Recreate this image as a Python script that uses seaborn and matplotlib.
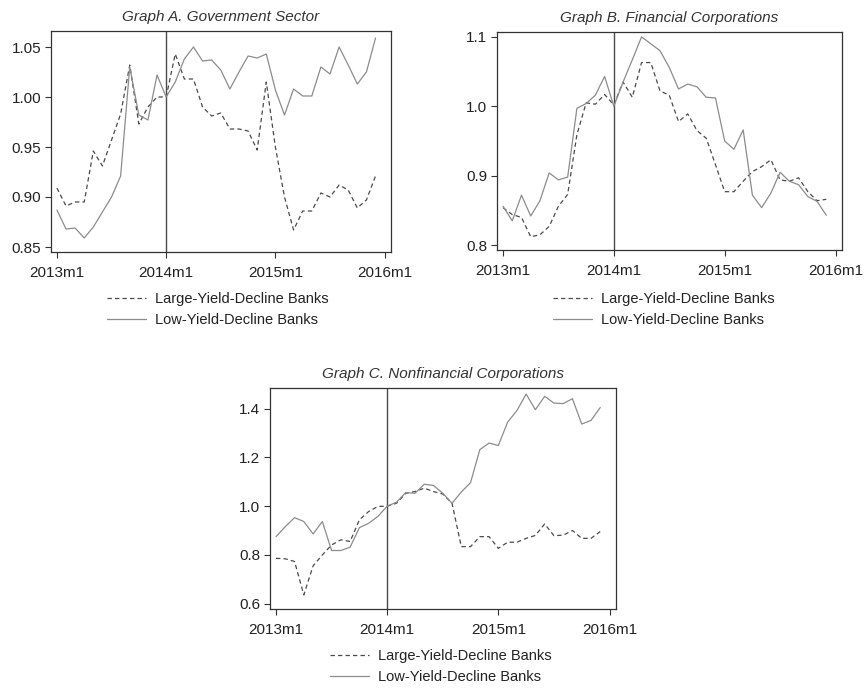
import numpy as np
import pandas as pd
import matplotlib
matplotlib.use("Agg")
import matplotlib.pyplot as plt
import seaborn as sns

# Monthly periods, 2013m1 .. 2015m12
months = [f"{y}m{m}" for y in (2013, 2014, 2015) for m in range(1, 13)]
tick_labels = ["2013m1", "2014m1", "2015m1", "2016m1"]
event_month = "2014m1"

series_names = ["Large-Yield-Decline Banks", "Low-Yield-Decline Banks"]

# Graph A. Government Sector (index, 2014m1 = 1)
gov_large = [0.909, 0.891, 0.895, 0.895, 0.946, 0.931, 0.957, 0.983, 1.032, 0.973,
             0.990, 1.000, 1.000, 1.043, 1.018, 1.018, 0.990, 0.981, 0.984, 0.968,
             0.968, 0.966, 0.947, 1.015, 0.950, 0.900, 0.867, 0.886, 0.886, 0.904,
             0.900, 0.912, 0.907, 0.889, 0.897, 0.921]
gov_low = [0.887, 0.868, 0.869, 0.859, 0.870, 0.885, 0.900, 0.921, 1.030, 0.982,
           0.977, 1.022, 1.000, 1.015, 1.038, 1.050, 1.036, 1.037, 1.027, 1.008,
           1.025, 1.041, 1.039, 1.043, 1.007, 0.982, 1.008, 1.001, 1.001, 1.030,
           1.023, 1.050, 1.032, 1.013, 1.025, 1.059]

# Graph B. Financial Corporations
fin_large = [0.854, 0.844, 0.840, 0.812, 0.815, 0.827, 0.856, 0.873, 0.959, 1.005,
             1.003, 1.017, 1.002, 1.035, 1.013, 1.063, 1.063, 1.022, 1.016, 0.978,
             0.989, 0.965, 0.954, 0.916, 0.877, 0.877, 0.892, 0.906, 0.913, 0.923,
             0.894, 0.892, 0.897, 0.877, 0.864, 0.866]
fin_low = [0.856, 0.835, 0.872, 0.842, 0.864, 0.904, 0.894, 0.898, 0.997, 1.004,
           1.016, 1.043, 1.000, 1.035, 1.067, 1.100, 1.090, 1.080, 1.056, 1.025,
           1.032, 1.028, 1.013, 1.012, 0.950, 0.938, 0.966, 0.872, 0.854, 0.875,
           0.905, 0.892, 0.887, 0.870, 0.863, 0.843]

# Graph C. Nonfinancial Corporations
nonfin_large = [0.786, 0.784, 0.773, 0.636, 0.755, 0.800, 0.841, 0.862, 0.855, 0.944,
                0.978, 0.999, 1.000, 1.012, 1.053, 1.060, 1.074, 1.060, 1.050, 1.012,
                0.834, 0.834, 0.875, 0.875, 0.827, 0.852, 0.852, 0.868, 0.880, 0.927,
                0.879, 0.881, 0.900, 0.868, 0.868, 0.896]
nonfin_low = [0.875, 0.916, 0.953, 0.937, 0.886, 0.937, 0.818, 0.818, 0.832, 0.912,
              0.930, 0.958, 1.000, 1.016, 1.056, 1.053, 1.090, 1.085, 1.053, 1.012,
              1.058, 1.097, 1.232, 1.259, 1.249, 1.345, 1.392, 1.460, 1.396, 1.451,
              1.423, 1.421, 1.441, 1.337, 1.352, 1.405]

panels = [
    ("Graph A. Government Sector", gov_large, gov_low,
     [0.85, 0.90, 0.95, 1.00, 1.05], "{:.2f}", (0.845, 1.066)),
    ("Graph B. Financial Corporations", fin_large, fin_low,
     [0.8, 0.9, 1.0, 1.1], "{:.1f}", (0.793, 1.107)),
    ("Graph C. Nonfinancial Corporations", nonfin_large, nonfin_low,
     [0.6, 0.8, 1.0, 1.2, 1.4], "{:.1f}", (0.578, 1.485)),
]

sns.set_theme(style="white")
plt.rcParams["font.family"] = ["Liberation Sans", "DejaVu Sans"]

W, H = 866, 689
fig = plt.figure(figsize=(W / 100, H / 100), dpi=100)

# axes boxes in pixel units: left, top, right, bottom
boxes = [(51, 31, 391, 252), (497, 32, 842, 250), (270, 388, 616, 609)]
legend_anchor = [(107, 292), (553, 292), (330, 649)]

month_pos = {m: i for i, m in enumerate(months + ["2016m1"])}

for (title, large, low, yticks, yfmt, ylim), (l, t, r, b), (lx, ly) in zip(panels, boxes, legend_anchor):
    ax = fig.add_axes([l / W, (H - b) / H, (r - l) / W, (b - t) / H])
    df = pd.DataFrame({
        "month": [month_pos[m] for m in months] * 2,
        "value": large + low,
        "group": [series_names[0]] * len(months) + [series_names[1]] * len(months),
    })
    sns.lineplot(data=df, x="month", y="value", hue="group", style="group",
                 palette={series_names[0]: "#4a4a4a", series_names[1]: "#8c8c8c"},
                 dashes={series_names[0]: (3.5, 2.5), series_names[1]: ""},
                 linewidth=0.9, ax=ax, legend=True)
    ax.axvline(month_pos[event_month], color="#4a4a4a", linewidth=1.0, zorder=1)

    ax.set_xlim(-0.65, 36.7)
    ax.set_ylim(*ylim)
    ax.set_xticks([month_pos[m] for m in tick_labels])
    ax.set_xticklabels(tick_labels)
    ax.set_yticks(yticks)
    ax.set_yticklabels([yfmt.format(v) for v in yticks])
    ax.set_xlabel("")
    ax.set_ylabel("")
    ax.tick_params(axis="both", which="major", direction="out", length=4,
                   width=0.8, color="#333333", labelsize=11, labelcolor="#222222",
                   bottom=True, left=True)
    ax.tick_params(axis="x", pad=6)
    ax.tick_params(axis="y", pad=3)
    for sp in ax.spines.values():
        sp.set_color("#333333")
        sp.set_linewidth(0.9)
    ax.set_title(title, fontsize=11, style="italic", color="#333333", pad=7)

    handles, labels = ax.get_legend_handles_labels()
    ax.legend(handles, labels, loc="upper left",
              bbox_to_anchor=(lx / W, (H - ly) / H), bbox_transform=fig.transFigure,
              frameon=False, fontsize=10.5, handlelength=2.7, handletextpad=0.6,
              labelspacing=0.5, borderpad=0, borderaxespad=0, labelcolor="#222222")

fig.savefig("out.png", dpi=100)
